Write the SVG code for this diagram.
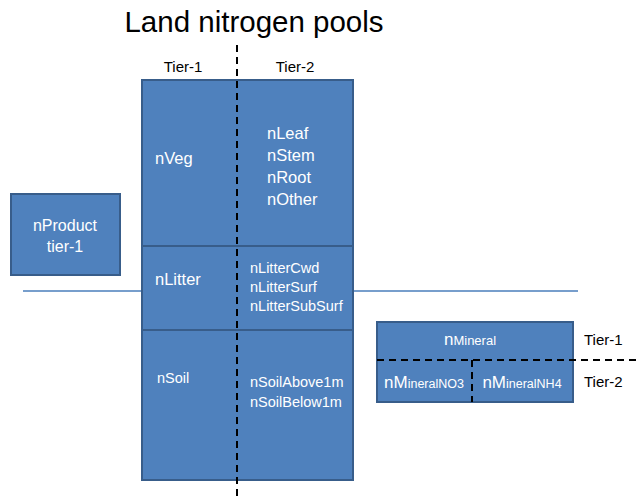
<svg xmlns="http://www.w3.org/2000/svg" width="637" height="499" viewBox="0 0 637 499">
<style>
.box{fill:#4f81bd;stroke:#385d8a;stroke-width:2}
.w{fill:#fff;font-family:"Liberation Sans",Arial,sans-serif}
.k{fill:#000;font-family:"Liberation Sans",Arial,sans-serif}
.dash{stroke:#000;stroke-width:2;stroke-dasharray:7,5;fill:none}
.ln{stroke:#4a7ebb;stroke-width:1.5;fill:none}
</style>
<rect width="637" height="499" fill="#fff"/>
<text class="k" x="254" y="32" font-size="29.5" text-anchor="middle">Land nitrogen pools</text>
<text class="k" x="183" y="72" font-size="15" text-anchor="middle">Tier-1</text>
<text class="k" x="295" y="72" font-size="15" text-anchor="middle">Tier-2</text>
<g id="connectors">
<line class="ln" x1="23" y1="291" x2="142" y2="291"/>
<line class="ln" x1="353" y1="291" x2="578" y2="291"/>
</g>
<g id="nVeg">
<rect class="box" x="142" y="80" width="211" height="166"/>
<text class="w" x="155" y="164" font-size="16.5">nVeg</text>
<text class="w" x="267" y="139" font-size="16.5">nLeaf</text>
<text class="w" x="267" y="161" font-size="16.5">nStem</text>
<text class="w" x="267" y="183" font-size="16.5">nRoot</text>
<text class="w" x="267" y="205" font-size="16.5">nOther</text>
</g>
<g id="nLitter">
<rect class="box" x="142" y="246" width="211" height="84"/>
<text class="w" x="155" y="285" font-size="16.5">nLitter</text>
<text class="w" x="250" y="273" font-size="14.5">nLitterCwd</text>
<text class="w" x="250" y="292" font-size="14.5">nLitterSurf</text>
<text class="w" x="250" y="311" font-size="14.5">nLitterSubSurf</text>
</g>
<g id="nSoil">
<rect class="box" x="142" y="330" width="211" height="150"/>
<text class="w" x="157" y="383" font-size="14.5">nSoil</text>
<text class="w" x="250" y="387" font-size="14.5">nSoilAbove1m</text>
<text class="w" x="250" y="407" font-size="14.5">nSoilBelow1m</text>
</g>
<g id="nProduct">
<rect class="box" x="11" y="194" width="109" height="81"/>
<text class="w" x="65" y="231" font-size="16" text-anchor="middle">nProduct</text>
<text class="w" x="65" y="252" font-size="16" text-anchor="middle">tier-1</text>
</g>
<g id="nMineral">
<rect class="box" x="377" y="322" width="196" height="80"/>
<text class="w" x="470" y="345" text-anchor="middle"><tspan font-size="17">n</tspan><tspan font-size="13">Mineral</tspan></text>
<text class="w" x="424" y="388" text-anchor="middle"><tspan font-size="17">nM</tspan><tspan font-size="12.5">ineralNO3</tspan></text>
<text class="w" x="522" y="388" text-anchor="middle"><tspan font-size="17">nM</tspan><tspan font-size="12.5">ineralNH4</tspan></text>
</g>
<text class="k" x="584" y="345" font-size="15">Tier-1</text>
<text class="k" x="584" y="387" font-size="15">Tier-2</text>
<line class="dash" x1="237" y1="45" x2="237" y2="499"/>
<line class="dash" x1="377" y1="360" x2="637" y2="360"/>
<line class="dash" x1="472" y1="360" x2="472" y2="402"/>
</svg>
